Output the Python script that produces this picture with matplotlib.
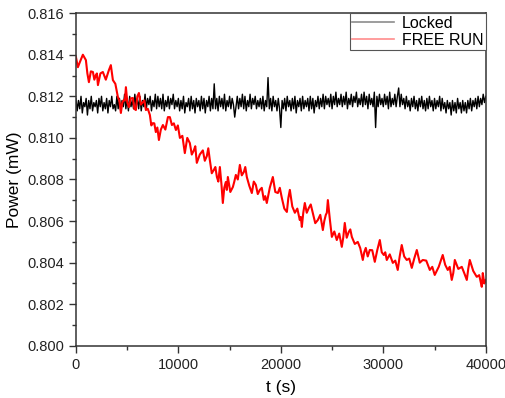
import numpy as np
import matplotlib.pyplot as plt
from matplotlib.ticker import MultipleLocator, FormatStrFormatter

# free running trace (t in s, power in mW)
t_free = [0, 195, 390, 680, 976, 1120, 1270, 1460, 1660, 1800,
          1950, 2050, 2150, 2390, 2630, 2920, 3220, 3410, 3610, 3850,
          4100, 4240, 4390, 4530, 4680, 4780, 4880, 5020, 5170, 5360,
          5560, 5700, 5850, 6000, 6150, 6340, 6540, 6680, 6830, 7020,
          7220, 7360, 7510, 7650, 7800, 7950, 8100, 8290, 8490, 8730,
          8980, 9170, 9370, 9560, 9760, 9950, 10150, 10390, 10630, 10870,
          11120, 11310, 11510, 11650, 11800, 12090, 12390, 12580, 12780, 12920,
          13070, 13260, 13460, 13610, 13760, 13900, 14050, 14200, 14340, 14480,
          14630, 14730, 14830, 15070, 15320, 15460, 15610, 15800, 16000, 16190,
          16390, 16530, 16680, 16920, 17170, 17360, 17560, 17750, 17950, 18140,
          18340, 18480, 18630, 18920, 19220, 19460, 19710, 19900, 20100, 20340,
          20590, 20730, 20880, 21120, 21370, 21610, 21850, 21950, 22050, 22190,
          22340, 22530, 22730, 22920, 23120, 23360, 23610, 23850, 24100, 24240,
          24390, 24490, 24590, 24780, 24980, 25220, 25460, 25700, 25950, 26090,
          26240, 26430, 26630, 26780, 26930, 27220, 27510, 27750, 28000, 28140,
          28290, 28480, 28680, 28920, 29170, 29410, 29660, 29850, 30050, 30190,
          30340, 30630, 30930, 31170, 31410, 31600, 31800, 32040, 32290, 32530,
          32780, 33020, 33270, 33560, 33850, 34190, 34540, 34780, 35020, 35410,
          35800, 36040, 36290, 36480, 36680, 36830, 36980, 37320, 37660, 37900,
          38150, 38290, 38440, 38780, 39120, 39360, 39610, 39660, 39710, 39850,
          40000]
p_free = [0.8139, 0.8134, 0.81365, 0.8140, 0.81374, 0.8131, 0.81268, 0.8132, 0.81317, 0.8128,
          0.81302, 0.8131, 0.81254, 0.8131, 0.81317, 0.8128, 0.81326, 0.8135, 0.81278, 0.8126,
          0.81196, 0.8118, 0.81120, 0.8117, 0.81182, 0.8118, 0.81244, 0.8117, 0.81148, 0.8119,
          0.81192, 0.8114, 0.81134, 0.8120, 0.81216, 0.8116, 0.81172, 0.8118, 0.81134, 0.8114,
          0.81110, 0.8106, 0.81071, 0.8107, 0.81028, 0.8105, 0.80990, 0.8104, 0.81062, 0.8104,
          0.81100, 0.8110, 0.81062, 0.8107, 0.81038, 0.8106, 0.81000, 0.8101, 0.80927, 0.8100,
          0.80975, 0.8092, 0.80940, 0.8096, 0.80880, 0.8092, 0.80940, 0.8089, 0.80913, 0.8095,
          0.80894, 0.8083, 0.80846, 0.8086, 0.80812, 0.8079, 0.80860, 0.8078, 0.80687, 0.8076,
          0.80788, 0.8075, 0.80812, 0.8074, 0.80764, 0.8079, 0.80822, 0.8080, 0.80870, 0.8082,
          0.80836, 0.8086, 0.80812, 0.8077, 0.80735, 0.8079, 0.80774, 0.8073, 0.80750, 0.8076,
          0.80702, 0.8072, 0.80687, 0.8076, 0.80812, 0.8074, 0.80735, 0.8076, 0.80711, 0.8066,
          0.80644, 0.8071, 0.80750, 0.8067, 0.80640, 0.8066, 0.80605, 0.8062, 0.80572, 0.8064,
          0.80687, 0.8064, 0.80663, 0.8068, 0.80640, 0.8059, 0.80605, 0.8063, 0.80557, 0.8060,
          0.80630, 0.8064, 0.80701, 0.8061, 0.80524, 0.8055, 0.80509, 0.8054, 0.80476, 0.8052,
          0.80591, 0.8052, 0.80548, 0.8056, 0.80524, 0.8049, 0.80500, 0.8047, 0.80413, 0.8045,
          0.80471, 0.8043, 0.80461, 0.8046, 0.80404, 0.8046, 0.80509, 0.8045, 0.80437, 0.8045,
          0.80413, 0.8044, 0.80399, 0.8041, 0.80365, 0.8043, 0.80485, 0.8043, 0.80413, 0.8042,
          0.80375, 0.8042, 0.80461, 0.8040, 0.80413, 0.8041, 0.80365, 0.8038, 0.80341, 0.8038,
          0.80437, 0.8039, 0.80365, 0.8038, 0.80317, 0.8035, 0.80413, 0.8037, 0.80380, 0.8035,
          0.80317, 0.8037, 0.80413, 0.8036, 0.80332, 0.8034, 0.80284, 0.8031, 0.80350, 0.8030,
          0.80317]

# locked trace, one value every 125 s
t_lock = np.arange(0, 40001, 125)
p_lock = [
    0.8119, 0.8113, 0.8118, 0.8114, 0.8120, 0.8112, 0.8117, 0.8115, 0.8119, 0.8111, 0.8118, 0.8114, 0.8120, 0.8113, 0.8117, 0.8115,
    0.8118, 0.8112, 0.8119, 0.8115, 0.8120, 0.8113, 0.8117, 0.8114, 0.8119, 0.8112, 0.8118, 0.8115, 0.8120, 0.8114, 0.8116, 0.8113,
    0.8120, 0.8114, 0.8119, 0.8113, 0.8118, 0.8115, 0.8121, 0.8114, 0.8119, 0.8113, 0.8120, 0.8115, 0.8118, 0.8114, 0.8121, 0.8115,
    0.8119, 0.8114, 0.8120, 0.8113, 0.8118, 0.8115, 0.8121, 0.8114, 0.8119, 0.8116, 0.8120, 0.8113, 0.8118, 0.8115, 0.8121, 0.8114,
    0.8120, 0.8115, 0.8119, 0.8114, 0.8121, 0.8113, 0.8118, 0.8115, 0.8120, 0.8114, 0.8119, 0.8116, 0.8121, 0.8114, 0.8118, 0.8115,
    0.8119, 0.8113, 0.8118, 0.8114, 0.8120, 0.8112, 0.8117, 0.8115, 0.8119, 0.8113, 0.8120, 0.8114, 0.8118, 0.8112, 0.8119, 0.8115,
    0.8118, 0.8113, 0.8120, 0.8114, 0.8119, 0.8112, 0.8118, 0.8115, 0.8120, 0.8113, 0.8119, 0.8114, 0.8126, 0.8114, 0.8119, 0.8113,
    0.8120, 0.8115, 0.8119, 0.8114, 0.8121, 0.8113, 0.8118, 0.8115, 0.8120, 0.8114, 0.8119, 0.8116, 0.8110, 0.8115, 0.8120, 0.8114,
    0.8119, 0.8115, 0.8121, 0.8114, 0.8120, 0.8113, 0.8118, 0.8115, 0.8121, 0.8114, 0.8119, 0.8116, 0.8120, 0.8114, 0.8118, 0.8115,
    0.8119, 0.8114, 0.8120, 0.8113, 0.8118, 0.8115, 0.8129, 0.8114, 0.8119, 0.8113, 0.8120, 0.8115, 0.8118, 0.8113, 0.8119, 0.8114,
    0.8105, 0.8118, 0.8114, 0.8119, 0.8113, 0.8120, 0.8115, 0.8118, 0.8113, 0.8119, 0.8114, 0.8120, 0.8112, 0.8118, 0.8115, 0.8119,
    0.8113, 0.8120, 0.8114, 0.8118, 0.8115, 0.8119, 0.8113, 0.8120, 0.8114, 0.8119, 0.8112, 0.8118, 0.8115, 0.8120, 0.8114, 0.8119,
    0.8115, 0.8121, 0.8114, 0.8120, 0.8116, 0.8119, 0.8115, 0.8121, 0.8114, 0.8120, 0.8116, 0.8122, 0.8115, 0.8119, 0.8116, 0.8121,
    0.8115, 0.8120, 0.8116, 0.8122, 0.8114, 0.8119, 0.8116, 0.8121, 0.8115, 0.8120, 0.8117, 0.8122, 0.8115, 0.8119, 0.8116, 0.8121,
    0.8115, 0.8122, 0.8116, 0.8120, 0.8114, 0.8121, 0.8116, 0.8119, 0.8115, 0.8122, 0.8105, 0.8120, 0.8115, 0.8121, 0.8116, 0.8119,
    0.8115, 0.8121, 0.8116, 0.8120, 0.8114, 0.8122, 0.8115, 0.8119, 0.8116, 0.8121, 0.8115, 0.8120, 0.8124, 0.8115, 0.8121, 0.8116,
    0.8119, 0.8114, 0.8120, 0.8115, 0.8118, 0.8113, 0.8119, 0.8115, 0.8120, 0.8114, 0.8118, 0.8113, 0.8119, 0.8115, 0.8120, 0.8114,
    0.8118, 0.8113, 0.8119, 0.8114, 0.8120, 0.8115, 0.8118, 0.8113, 0.8119, 0.8114, 0.8118, 0.8115, 0.8120, 0.8113, 0.8119, 0.8114,
    0.8117, 0.8112, 0.8118, 0.8114, 0.8117, 0.8111, 0.8118, 0.8113, 0.8117, 0.8112, 0.8119, 0.8114, 0.8117, 0.8112, 0.8118, 0.8113,
    0.8117, 0.8112, 0.8118, 0.8114, 0.8119, 0.8113, 0.8118, 0.8115, 0.8119, 0.8114, 0.8120, 0.8115, 0.8119, 0.8116, 0.8121, 0.8117,
    0.8120]

plt.rcParams['font.family'] = ['Liberation Sans', 'DejaVu Sans']

fig = plt.figure(figsize=(5.06, 3.98), dpi=100)
ax = fig.add_axes([0.150, 0.131, 0.810, 0.836])

ax.plot(t_lock, p_lock, color='black', lw=1.0, label='Locked')
ax.plot(t_free, p_free, color='red', lw=1.5, label='FREE RUN')

ax.set_xlim(0, 40000)
ax.set_ylim(0.800, 0.816)
ax.xaxis.set_major_locator(MultipleLocator(10000))
ax.xaxis.set_minor_locator(MultipleLocator(5000))
ax.yaxis.set_major_locator(MultipleLocator(0.002))
ax.yaxis.set_minor_locator(MultipleLocator(0.001))
ax.yaxis.set_major_formatter(FormatStrFormatter('%.3f'))

for s in ax.spines.values():
    s.set_color('#333333')
    s.set_linewidth(1.1)
ax.tick_params(which='major', direction='out', length=5, width=1, color='#333333',
               labelsize=10.5, labelcolor='#222222')
ax.tick_params(which='minor', direction='out', length=3, width=1, color='#333333')

ax.set_xlabel('t (s)', fontsize=12.5, labelpad=6)
ax.set_ylabel('Power (mW)', fontsize=12.5, labelpad=4)

leg = ax.legend(loc='upper right', fontsize=11.5, fancybox=False, framealpha=1,
                edgecolor='#555555', borderaxespad=0, handlelength=2.6,
                borderpad=0.15, labelspacing=0.15, handletextpad=0.5)
leg.get_frame().set_linewidth(0.8)
for h in leg.get_lines():
    h.set_alpha(0.45)
    h.set_linewidth(1.2)

fig.savefig('out.png', dpi=100)
